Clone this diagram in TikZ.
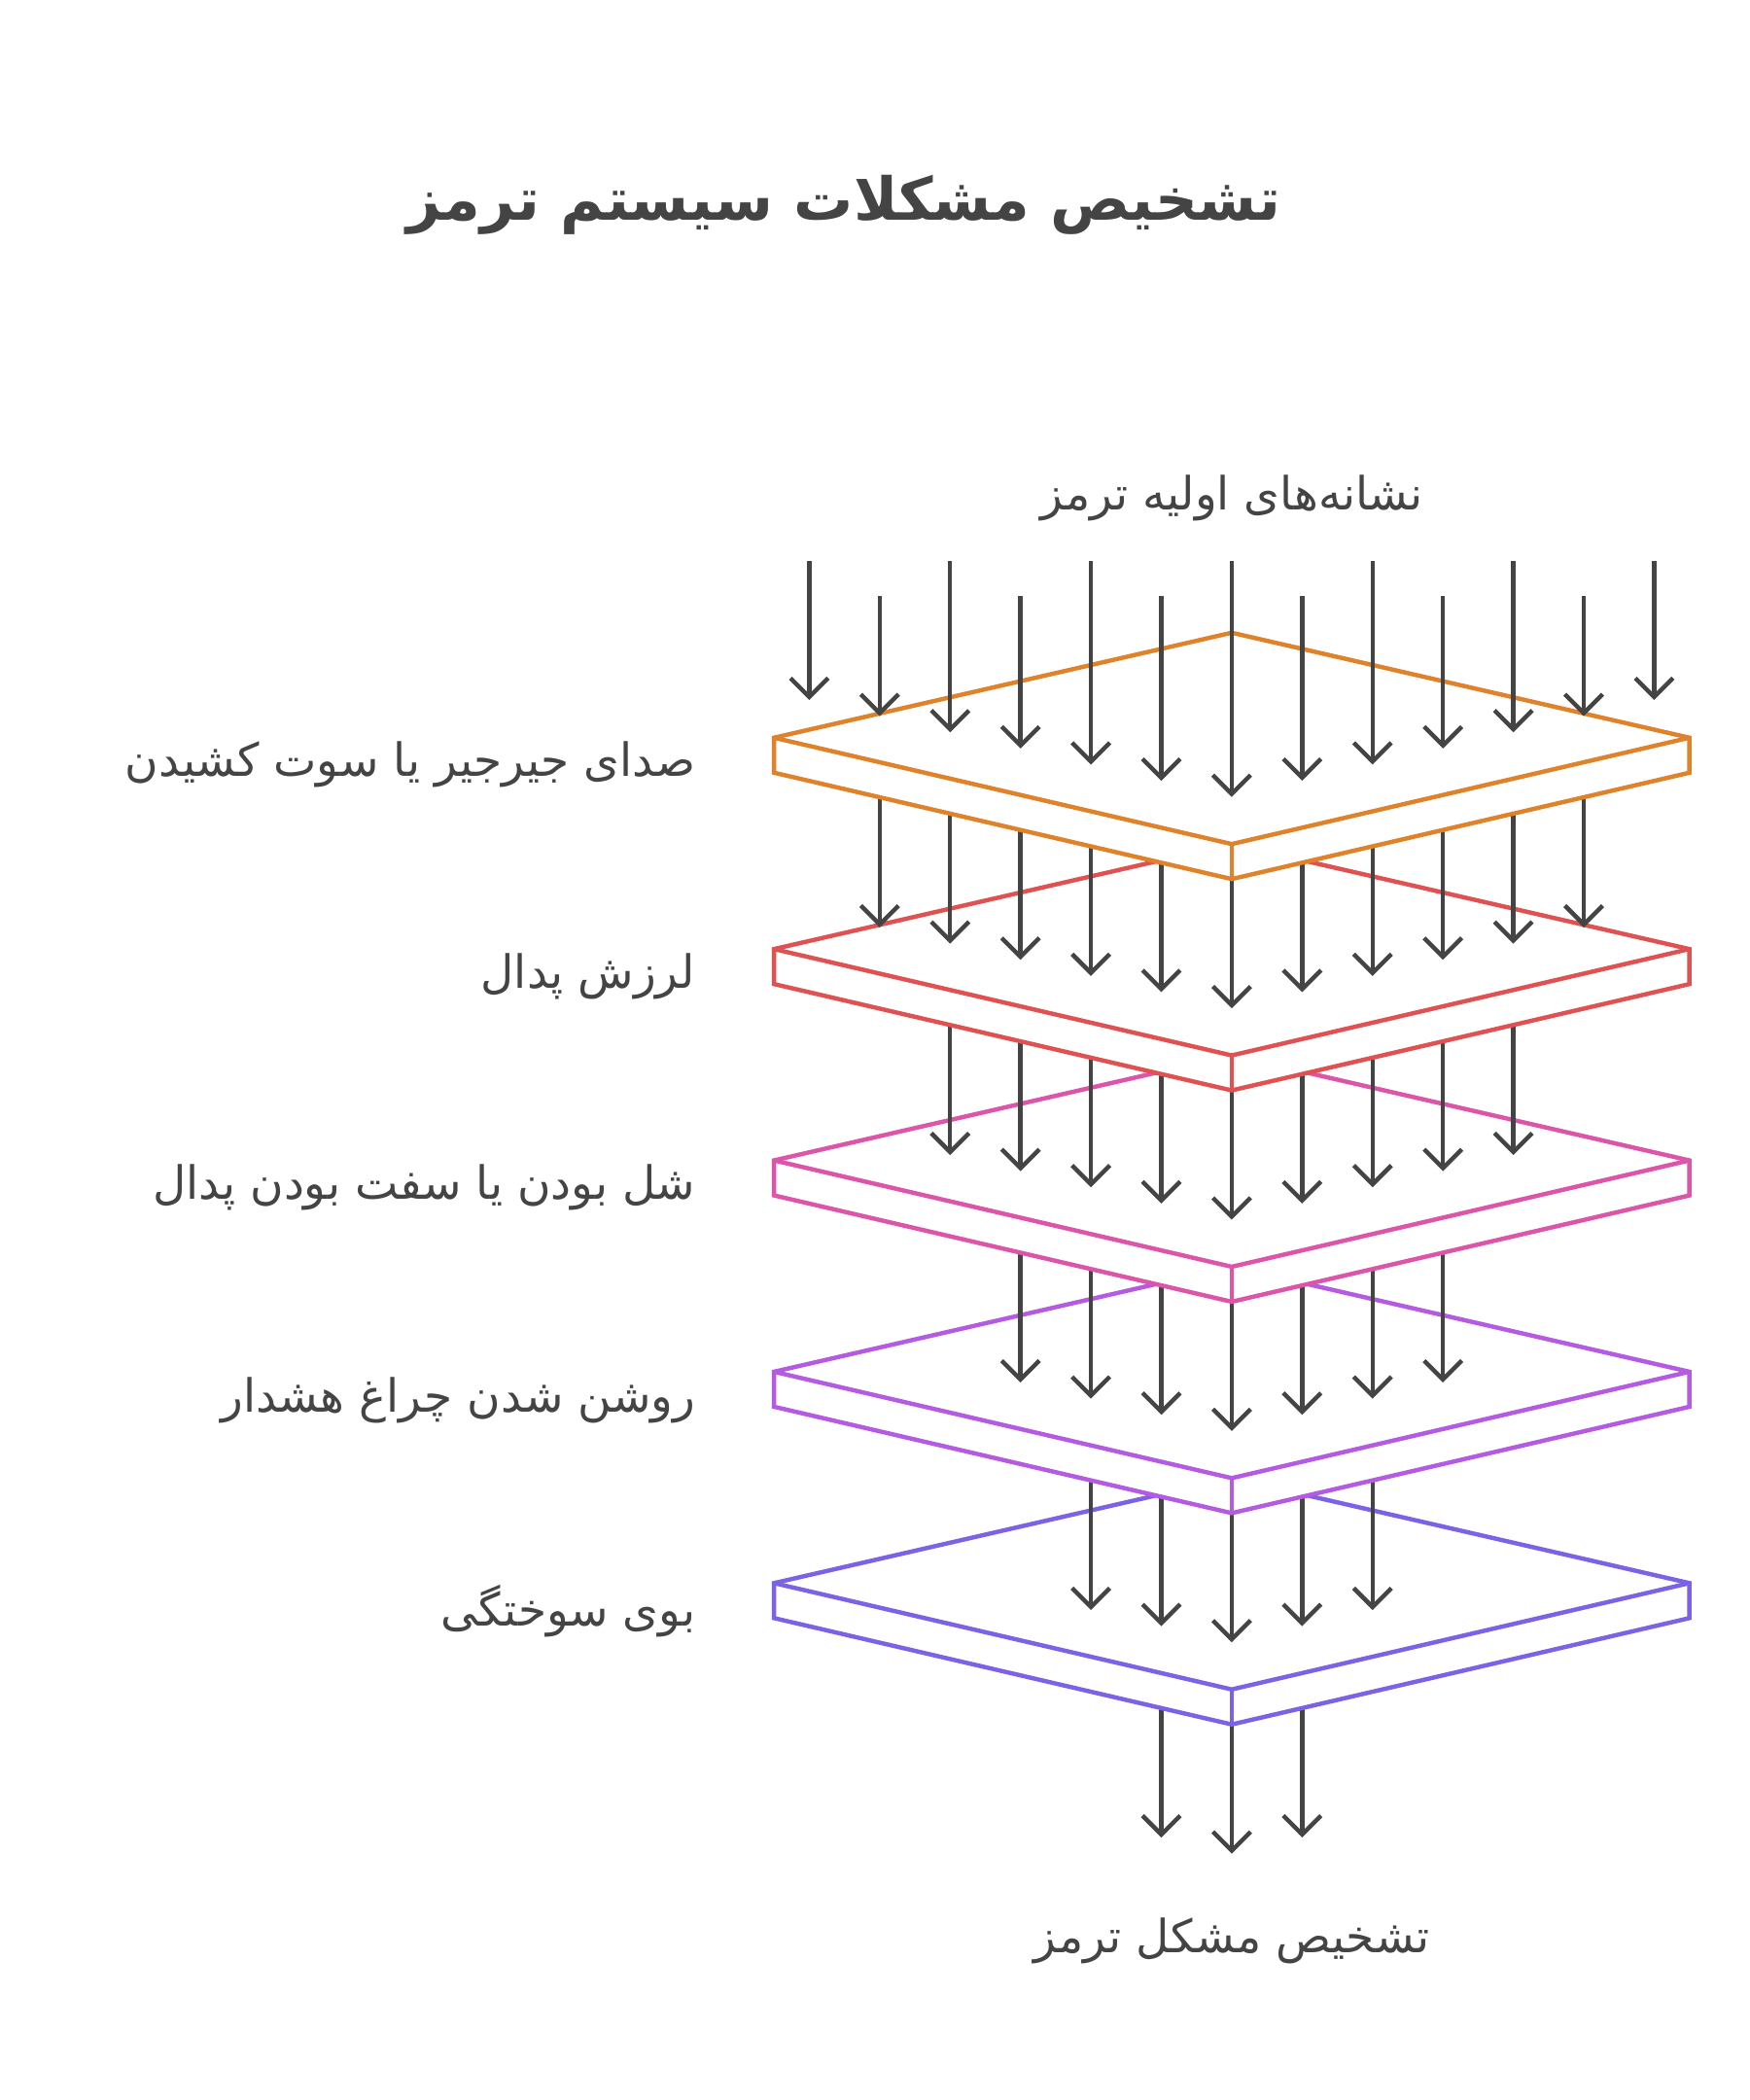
\documentclass[tikz,border=0pt]{standalone}
\usepackage{fontspec}
\usetikzlibrary{arrows.meta}
\TeXXeTstate=1
\newfontfamily\arabicfont[Script=Arabic]{DejaVu Sans}
\definecolor{tx}{HTML}{444444}
\definecolor{c1}{HTML}{E0822A}
\definecolor{c2}{HTML}{E05252}
\definecolor{c3}{HTML}{DC55A8}
\definecolor{c4}{HTML}{B55AE2}
\definecolor{c5}{HTML}{7B62E6}
\tikzset{
 plate/.style={draw=#1,line width=1.6pt,fill=white,line join=miter},
 arr/.style={draw=tx,line width=1.6pt,-{Straight Barb[length=7pt,width=14pt,line width=1.6pt]}},
 lbl/.style={text=tx,font=\arabicfont\fontsize{17}{20}\selectfont,inner sep=0pt},
}
\newcommand{\plt}[2]{% top y, color
 \pgfmathsetmacro\ya{#1+78}\pgfmathsetmacro\yb{#1+104}\pgfmathsetmacro\yc{#1+157}\pgfmathsetmacro\yd{#1+183}
 \path[plate=#2] (575,\ya) -- (915,#1) -- (1255,\ya) -- (1255,\yb) -- (915,\yd) -- (575,\yb) -- cycle;
 \draw[#2,line width=1.6pt] (575,\ya) -- (915,\yc) -- (1255,\ya);
 \draw[#2,line width=1.6pt] (915,\yc) -- (915,\yd);
}
\begin{document}
\begin{tikzpicture}[x=0.5pt,y=-0.5pt]
\path[use as bounding box,fill=white] (0,0) rectangle (1300,1560);
\node[lbl,font=\arabicfont\bfseries\fontsize{22}{26}\selectfont] (title) at (627,152) {\beginR تشخیص مشکلات سیستم ترمز\endR};
\node[lbl] (top) at (915,370) {\beginR نشانه‌های اولیه ترمز\endR};
\node[lbl] (bot) at (915,1442) {\beginR تشخیص مشکل ترمز\endR};
\node[lbl,anchor=east] (l1) at (517,568) {\beginR صدای جیرجیر یا سوت کشیدن\endR};
\node[lbl,anchor=east] (l2) at (517,725) {\beginR لرزش پدال\endR};
\node[lbl,anchor=east] (l3) at (517,882) {\beginR شل بودن یا سفت بودن پدال\endR};
\node[lbl,anchor=east] (l4) at (517,1040) {\beginR روشن شدن چراغ هشدار\endR};
\node[lbl,anchor=east] (l5) at (517,1197) {\beginR بوی سوختگی\endR};
\foreach \j in {-1,0,1}{
  \pgfmathsetmacro\xx{915+52.3*\j}
  \pgfmathsetmacro\ys{1280-abs(\j)*12}
  \pgfmathsetmacro\ye{1377-abs(\j)*12}
  \draw[arr] (\xx,\ys) -- (\xx,\ye);
}
\foreach \p/\col in {5/c5,4/c4,3/c3,2/c2,1/c1}{
  \pgfmathsetmacro\ty{470+157*(\p-1)}
  \plt{\ty}{\col}
  \pgfmathtruncatemacro\n{7-\p}
  \foreach \j in {-\n,...,\n}{
    \pgfmathsetmacro\xx{915+52.3*\j}
    \pgfmathsetmacro\ye{592+157*(\p-1)-abs(\j)*12}
    \ifnum\p=1
      \pgfmathsetmacro\ys{417+26*mod(abs(\j),2)}
    \else
      \pgfmathsetmacro\ys{653+157*(\p-2)-abs(\j)*12}
    \fi
    \draw[arr] (\xx,\ys) -- (\xx,\ye);
  }
}
\end{tikzpicture}
\end{document}
